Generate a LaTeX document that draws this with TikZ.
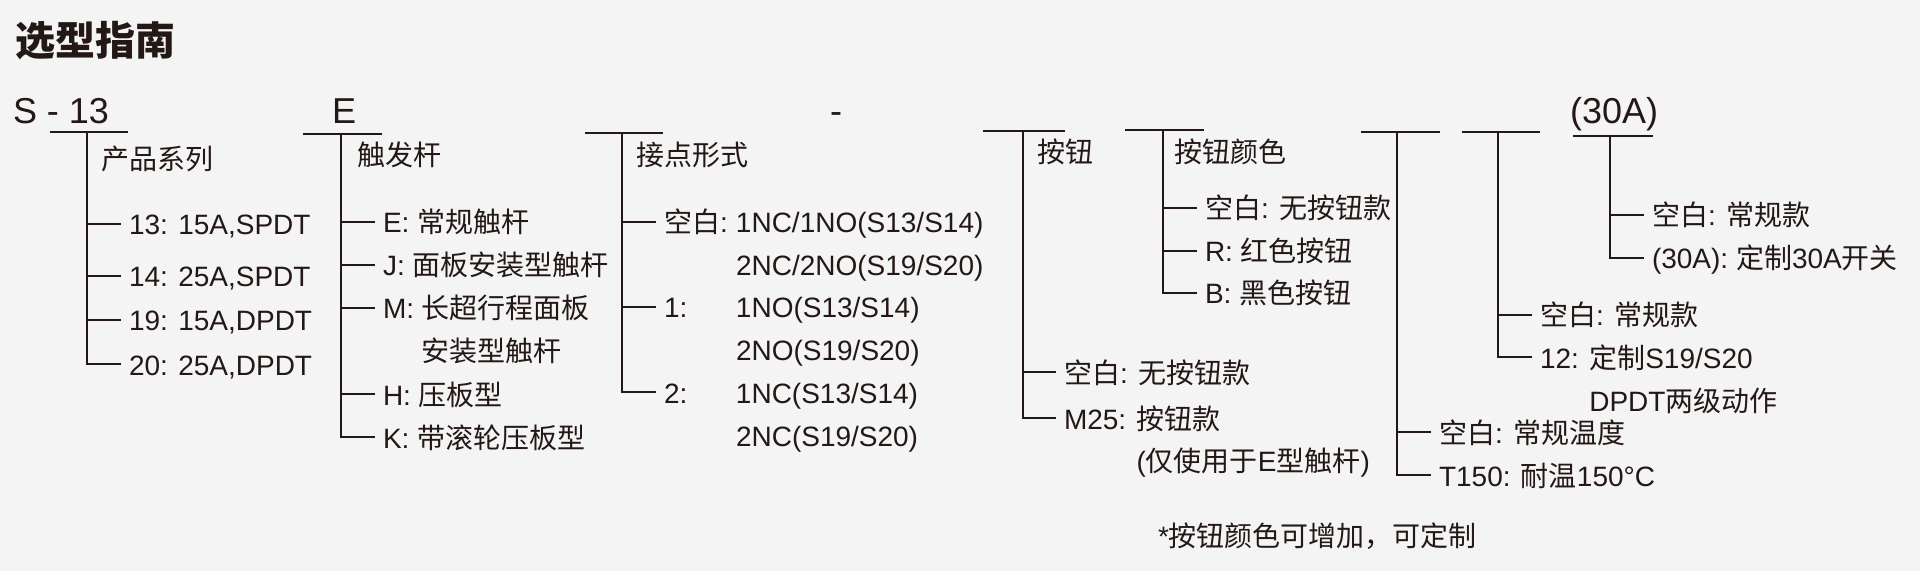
\documentclass[tikz,border=0pt]{standalone}
\usepackage{fontspec}
\setmainfont{Liberation Sans}
\newfontfamily\zhfont{Noto Sans CJK SC}
\newcommand{\zh}[1]{{\zhfont #1}}

\definecolor{ink}{HTML}{231815}
\definecolor{paper}{HTML}{F4F4F4}

\tikzset{
	opt/.style={anchor=west, inner xsep=3.5pt, inner ysep=0pt, text height=11pt, text depth=0pt, font=\fontsize{14}{16}\selectfont},
	colname/.style={anchor=base west, inner sep=0pt, font=\fontsize{14}{16}\selectfont},
	part/.style={anchor=base west, inner sep=0pt, font=\fontsize{18}{20}\selectfont},
	heading/.style={anchor=base west, inner sep=0pt, font=\fontsize{20}{22}\selectfont\bfseries},
}

\begin{document}
\begin{tikzpicture}[x=0.5pt, y=-0.5pt, color=ink, line width=1pt]

	\fill[paper] (0,0) rectangle (1920,571);
	\useasboundingbox (0,0) rectangle (1920,571);

	\node[heading] (title) at (14,56) {\zh{选型指南}};

	% the code line
	\node[part] (code) at (12,124) {S - 13};
	\node[part] (codeE) at (331,124) {E};
	\node[part] (dash) at (829,124) {-};
	\node[part] (code30) at (1569,124) {(30A)};

	% series
	\coordinate (A) at (87,132);
	\draw (A) ++(-37,0) -- ++(78,0);
	\node[colname] (nA) at (100,170) {\zh{产品系列}};
	\node[opt] (a1) at (121,224) {13: 15A,SPDT};
	\node[opt] (a2) at (121,276) {14: 25A,SPDT};
	\node[opt] (a3) at (121,320) {19: 15A,DPDT};
	\node[opt] (a4) at (121,364) {20: 25A,DPDT};
	\draw (A) |- (a1.west);
	\draw (A) |- (a2.west);
	\draw (A) |- (a3.west);
	\draw (A) |- (a4.west);

	% lever
	\coordinate (B) at (341,134);
	\draw (B) ++(-38,0) -- ++(79,0);
	\node[colname] (nB) at (356,166) {\zh{触发杆}};
	\node[opt] (b1) at (375,222) {E: \zh{常规触杆}};
	\node[opt] (b2) at (375,265) {J: \zh{面板安装型触杆}};
	\node[opt] (b3) at (375,308) {M: \zh{长超行程面板}};
	\node[opt] (b3x) at (375,351) {\phantom{M: }\zh{安装型触杆}};
	\node[opt] (b4) at (375,394) {H: \zh{压板型}};
	\node[opt] (b5) at (375,437) {K: \zh{带滚轮压板型}};
	\draw (B) |- (b1.west);
	\draw (B) |- (b2.west);
	\draw (B) |- (b3.west);
	\draw (B) |- (b4.west);
	\draw (B) |- (b5.west);

	% contacts
	\coordinate (C) at (622,133);
	\draw (C) ++(-37,0) -- ++(78,0);
	\node[colname] (nC) at (635,166) {\zh{接点形式}};
	\node[opt] (c1) at (656,222) {\makebox[36pt][l]{\zh{空白}:}1NC/1NO(S13/S14)};
	\node[opt] (c1x) at (656,265) {\hspace{36pt}2NC/2NO(S19/S20)};
	\node[opt] (c2) at (656,307) {\makebox[36pt][l]{1:}1NO(S13/S14)};
	\node[opt] (c2x) at (656,350) {\hspace{36pt}2NO(S19/S20)};
	\node[opt] (c3) at (656,392) {\makebox[36pt][l]{2:}1NC(S13/S14)};
	\node[opt] (c3x) at (656,435) {\hspace{36pt}2NC(S19/S20)};
	\draw (C) |- (c1.west);
	\draw (C) |- (c2.west);
	\draw (C) |- (c3.west);

	% push button
	\coordinate (D) at (1023,131);
	\draw (D) ++(-40,0) -- ++(82,0);
	\node[colname] (nD) at (1036,163) {\zh{按钮}};
	\node[opt] (d1) at (1056,372) {\zh{空白}: \zh{无按钮款}};
	\node[opt] (d2) at (1056,418) {M25: \zh{按钮款}};
	\node[opt] (d2x) at (1056,460) {\phantom{M25: }(\zh{仅使用于}E\zh{型触杆})};
	\draw (D) |- (d1.west);
	\draw (D) |- (d2.west);

	% button colour
	\coordinate (K) at (1163,130);
	\draw (K) ++(-38,0) -- ++(79,0);
	\node[colname] (nK) at (1173,163) {\zh{按钮颜色}};
	\node[opt] (k1) at (1197,208) {\zh{空白}: \zh{无按钮款}};
	\node[opt] (k2) at (1197,251) {R: \zh{红色按钮}};
	\node[opt] (k3) at (1197,293) {B: \zh{黑色按钮}};
	\draw (K) |- (k1.west);
	\draw (K) |- (k2.west);
	\draw (K) |- (k3.west);

	% temperature
	\coordinate (T) at (1397,132);
	\draw (T) ++(-36,0) -- ++(79,0);
	\node[opt] (t1) at (1431,432) {\zh{空白}: \zh{常规温度}};
	\node[opt] (t2) at (1431,475) {T150: \zh{耐温}150°C};
	\draw (T) |- (t1.west);
	\draw (T) |- (t2.west);

	% two stage
	\coordinate (S) at (1498,132);
	\draw (S) ++(-36,0) -- ++(78,0);
	\node[opt] (s1) at (1532,315) {\zh{空白}: \zh{常规款}};
	\node[opt] (s2) at (1532,357) {12: \zh{定制}S19/S20};
	\node[opt] (s2x) at (1532,400) {\phantom{12: }DPDT\zh{两级动作}};
	\draw (S) |- (s1.west);
	\draw (S) |- (s2.west);

	% 30A
	\coordinate (H) at (1610,136);
	\draw (H) ++(-37,0) -- ++(80,0);
	\node[opt] (h1) at (1644,215) {\zh{空白}: \zh{常规款}};
	\node[opt] (h2) at (1644,258) {(30A): \zh{定制}30A\zh{开关}};
	\draw (H) |- (h1.west);
	\draw (H) |- (h2.west);

	\node[opt] (note) at (1150,535) {*\zh{按钮颜色可增加，可定制}};

\end{tikzpicture}
\end{document}
